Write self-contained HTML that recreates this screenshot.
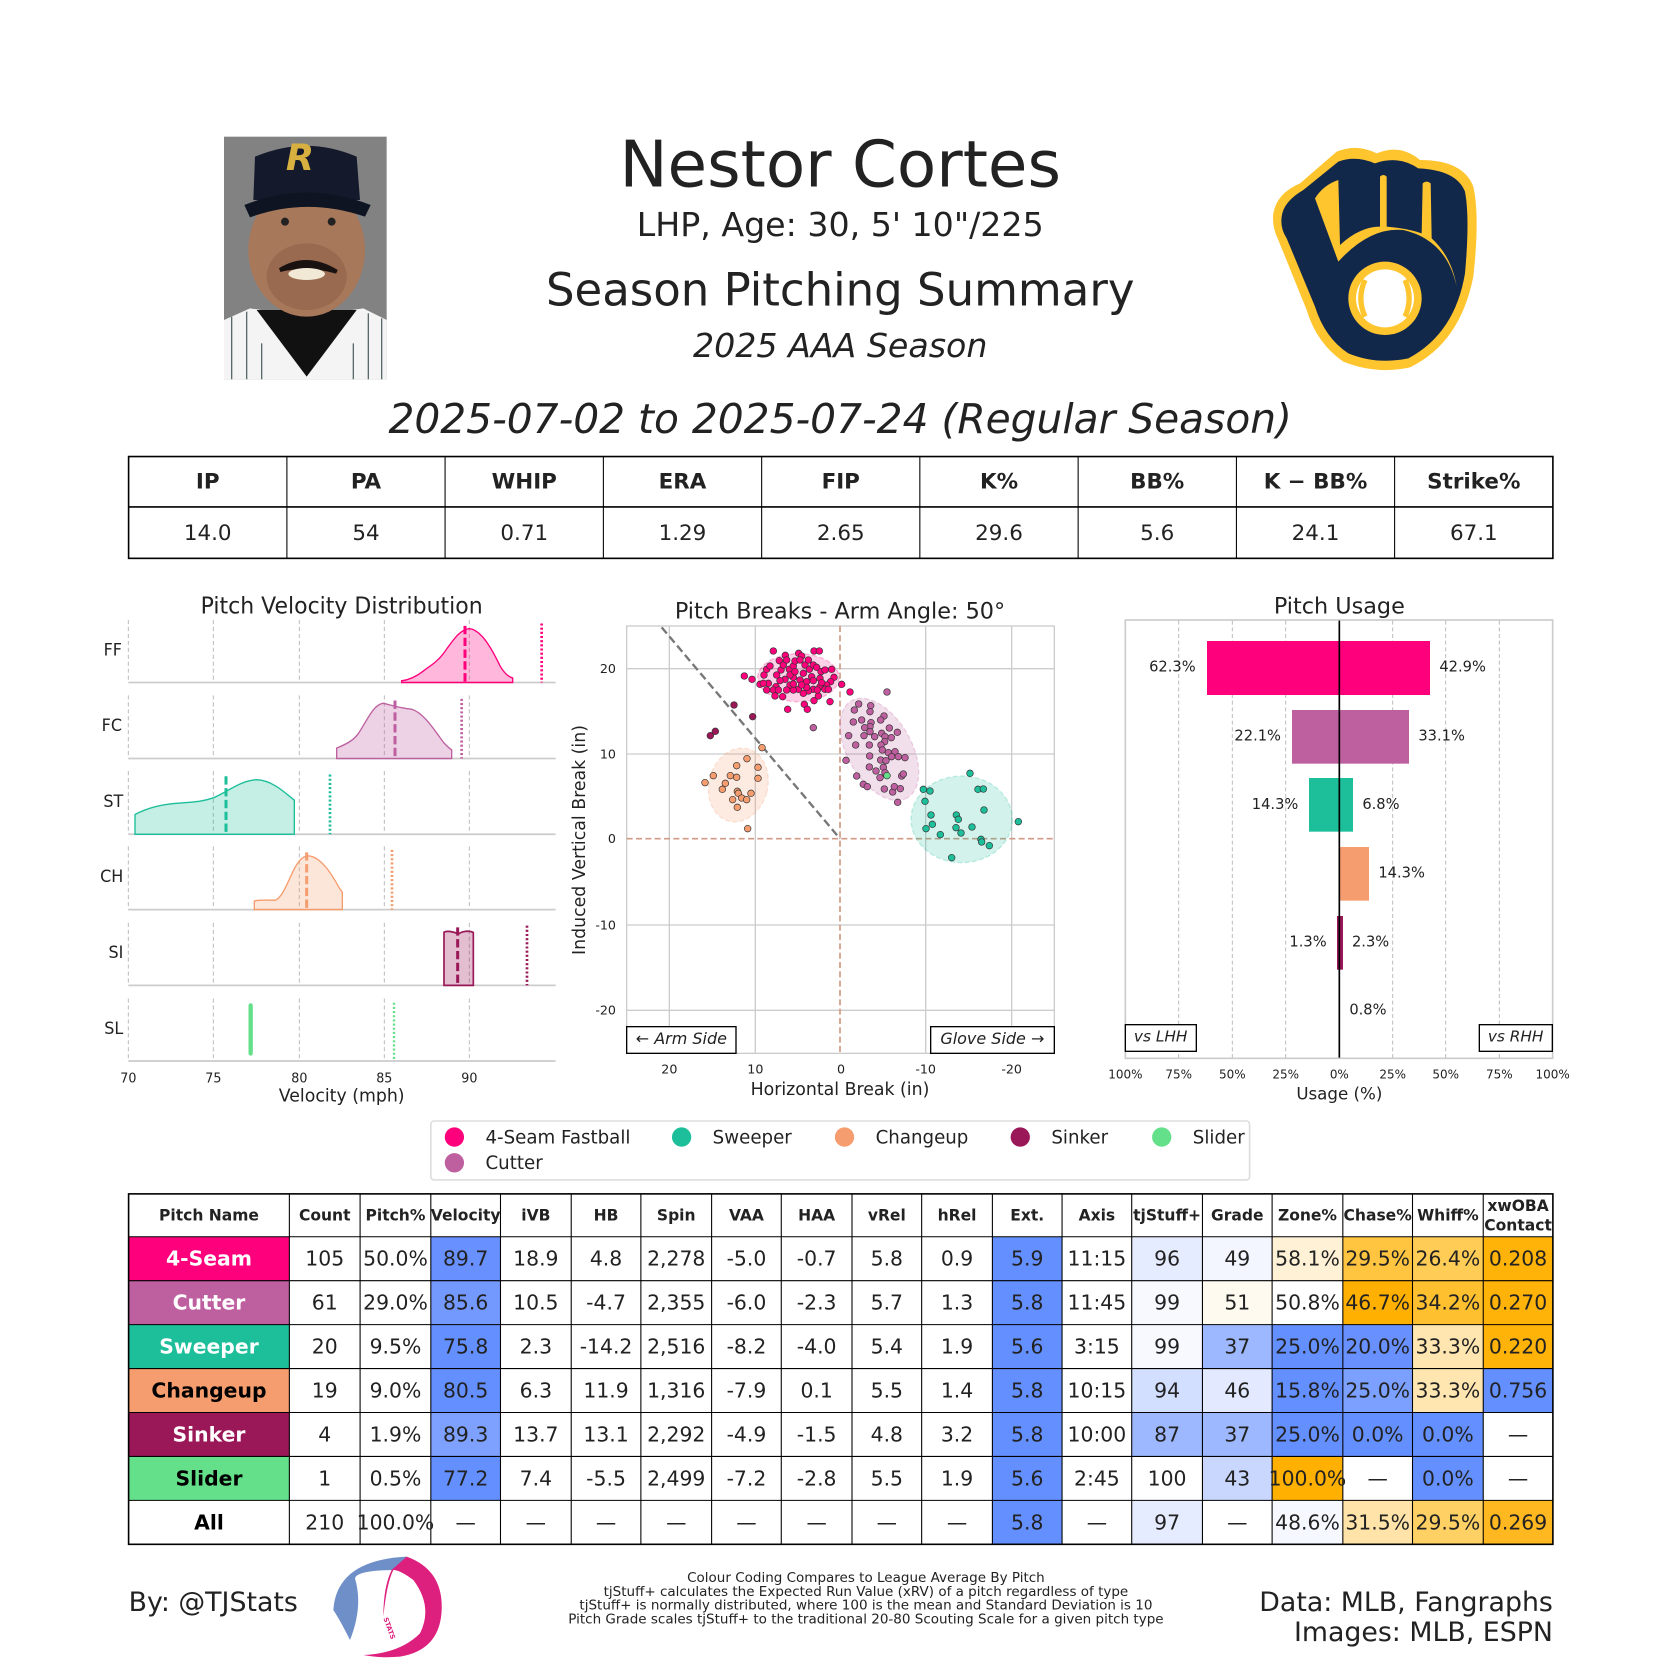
<!DOCTYPE html>
<html><head><meta charset="utf-8"><style>
html,body{margin:0;padding:0;background:#fff;}
svg{display:block;font-family:"DejaVu Sans","Liberation Sans",sans-serif;}
</style></head><body>
<svg width="1680" height="1680" viewBox="0 0 1680 1680" xmlns="http://www.w3.org/2000/svg">
<rect width="1680" height="1680" fill="#fff"/>

<!-- Photo -->
<g transform="translate(200,130) scale(0.33333)">
<rect x="72" y="20" width="488" height="728" fill="#828282"/>
<path d="M72 570 L150 535 L320 560 L490 535 L560 570 L560 748 L72 748 Z" fill="#f4f4f4"/>
<path d="M170 540 L320 740 L470 540 Z" fill="#111"/>
<g stroke="#5a6a6a" stroke-width="4"><line x1="95" y1="560" x2="95" y2="748"/><line x1="140" y1="545" x2="140" y2="748"/><line x1="185" y1="640" x2="185" y2="748"/><line x1="460" y1="640" x2="460" y2="748"/><line x1="505" y1="550" x2="505" y2="748"/><line x1="545" y1="565" x2="545" y2="748"/></g>
<ellipse cx="320" cy="360" rx="175" ry="200" fill="#a8785a"/>
<ellipse cx="320" cy="440" rx="120" ry="100" fill="#9a6a50"/>
<path d="M240 420 Q320 370 410 425 Q320 400 240 420Z" fill="#1a1210" stroke="#1a1210" stroke-width="12"/>
<ellipse cx="320" cy="432" rx="55" ry="18" fill="#f1e8d6"/>
<circle cx="255" cy="275" r="12" fill="#222"/><circle cx="395" cy="275" r="12" fill="#222"/>
<path d="M165 80 Q320 15 470 80 L480 210 L160 210 Z" fill="#141a2c"/>
<path d="M133 225 Q320 150 512 225 L495 260 Q320 200 150 262 Z" fill="#0f1422"/>
<text x="300" y="120" font-size="110" font-weight="bold" fill="#d8b040" text-anchor="middle" font-style="italic">R</text>
</g>

<!-- Titles -->
<g transform="scale(1.0717)">
<text x="784" y="174" font-size="60" text-anchor="middle" fill="#222">Nestor Cortes</text>
<text x="784" y="220" font-size="31" text-anchor="middle" fill="#222">LHP, Age: 30, 5' 10"/225</text>
<text x="784" y="285" font-size="42" text-anchor="middle" fill="#222">Season Pitching Summary</text>
<text x="784" y="333" font-size="31" font-style="italic" text-anchor="middle" fill="#222">2025 AAA Season</text>
<text x="784" y="404" font-size="38" font-style="italic" text-anchor="middle" fill="#222">2025-07-02 to 2025-07-24 (Regular Season)</text>

<rect x="120" y="426" width="1329" height="95" fill="#fff" stroke="#000" stroke-width="1.5"/>
<line x1="120" y1="473" x2="1449" y2="473" stroke="#000" stroke-width="1.5"/>
<g stroke="#000" stroke-width="1">
<line x1="267.7" y1="426" x2="267.7" y2="521"/><line x1="415.3" y1="426" x2="415.3" y2="521"/><line x1="563" y1="426" x2="563" y2="521"/><line x1="710.7" y1="426" x2="710.7" y2="521"/><line x1="858.3" y1="426" x2="858.3" y2="521"/><line x1="1006" y1="426" x2="1006" y2="521"/><line x1="1153.7" y1="426" x2="1153.7" y2="521"/><line x1="1301.3" y1="426" x2="1301.3" y2="521"/>
</g>
<g font-size="20" text-anchor="middle" fill="#222" font-weight="bold">
<text x="193.8" y="456">IP</text><text x="341.5" y="456">PA</text><text x="489.2" y="456">WHIP</text><text x="636.8" y="456">ERA</text><text x="784.5" y="456">FIP</text><text x="932.2" y="456">K%</text><text x="1079.8" y="456">BB%</text><text x="1227.5" y="456">K − BB%</text><text x="1375.2" y="456">Strike%</text>
</g>
<g font-size="20" text-anchor="middle" fill="#222">
<text x="193.8" y="504">14.0</text><text x="341.5" y="504">54</text><text x="489.2" y="504">0.71</text><text x="636.8" y="504">1.29</text><text x="784.5" y="504">2.65</text><text x="932.2" y="504">29.6</text><text x="1079.8" y="504">5.6</text><text x="1227.5" y="504">24.1</text><text x="1375.2" y="504">67.1</text>
</g>
</g>

<!-- Brewers logo -->
<g transform="translate(1270,130) scale(0.33333)">
<path d="M10 250 Q20 190 90 160 L200 65 Q260 40 320 70 Q390 40 450 90 Q580 90 610 170 Q630 260 610 440 Q570 640 420 712 Q320 735 220 695 Q140 640 110 540 L25 330 Q5 290 10 250Z" fill="#ffc52f"/>
<path d="M35 260 Q40 215 100 180 L205 95 Q255 75 315 100 Q385 75 445 115 Q560 120 585 185 Q600 265 585 430 Q555 610 415 685 Q320 705 235 670 Q165 625 135 530 L50 325 Q30 295 35 260Z" fill="#12284b"/>
<path d="M135 205 Q160 165 205 150 L210 345 Q270 290 330 290 L330 140 Q340 130 350 140 L350 290 Q410 295 455 310 L458 160 Q470 150 482 160 L485 325 Q545 380 560 470 Q530 330 400 300 Q300 290 205 395 Z" fill="#ffc52f"/>
<circle cx="345" cy="505" r="110" fill="#ffc52f"/>
<circle cx="345" cy="505" r="87" fill="#fff"/>
<path d="M285 450 Q260 505 285 560" stroke="#ffc52f" stroke-width="16" fill="none"/>
<path d="M405 450 Q430 505 405 560" stroke="#ffc52f" stroke-width="16" fill="none"/>
</g>

<!-- Velocity distribution -->
<g transform="translate(100,579) scale(0.33333,0.3473)">
<text x="725" y="100" font-size="66" text-anchor="middle" fill="#222">Pitch Velocity Distribution</text>
<g stroke="#bbb" stroke-width="3" stroke-dasharray="12,8">
<path d="M85 118V298M340 118V298M598 118V298M853 118V298M1108 118V298"/>
<path d="M85 335V517M340 335V517M598 335V517M853 335V517M1108 335V517"/>
<path d="M85 553V735M340 553V735M598 553V735M853 553V735M1108 553V735"/>
<path d="M85 770V952M340 770V952M598 770V952M853 770V952M1108 770V952"/>
<path d="M85 990V1170M340 990V1170M598 990V1170M853 990V1170M1108 990V1170"/>
<path d="M85 1208V1388M340 1208V1388M598 1208V1388M853 1208V1388M1108 1208V1388"/>
</g>
<g stroke="#ccc" stroke-width="5"><path d="M85 298H1367M85 517H1367M85 735H1367M85 952H1367M85 1170H1367M85 1388H1367"/></g>
<path d="M905,298 L905,293 C930,290 950,280 970,265 C990,250 1010,240 1030,215 C1060,175 1080,145 1108,143 C1140,145 1170,190 1200,250 C1215,275 1230,283 1238,285 L1238,298 Z" fill="#FF007D" fill-opacity="0.28" stroke="#FF007D" stroke-width="4"/>
<path d="M1095 135V298" stroke="#FF007D" stroke-width="9" stroke-dasharray="24,10"/>
<path d="M1325 128V298" stroke="#FF007D" stroke-width="8" stroke-dasharray="6,6"/>
<path d="M710,517 L710,487 C740,475 760,465 775,445 C800,410 820,360 850,358 C870,362 900,372 935,375 C970,385 1000,430 1030,470 C1045,485 1050,490 1055,492 L1055,517 Z" fill="#BE5FA0" fill-opacity="0.28" stroke="#BE5FA0" stroke-width="4"/>
<path d="M885 350V517" stroke="#BE5FA0" stroke-width="9" stroke-dasharray="24,10"/>
<path d="M1085 345V517" stroke="#BE5FA0" stroke-width="8" stroke-dasharray="6,6"/>
<path d="M105,735 L105,678 C140,660 180,648 240,645 C290,642 310,640 340,630 C380,615 420,580 470,578 C520,580 560,620 583,637 L583,735 Z" fill="#1DBE9A" fill-opacity="0.26" stroke="#1DBE9A" stroke-width="4"/>
<path d="M378 568V735" stroke="#1DBE9A" stroke-width="9" stroke-dasharray="24,10"/>
<path d="M690 563V735" stroke="#1DBE9A" stroke-width="8" stroke-dasharray="6,6"/>
<path d="M463,952 L463,927 C480,923 510,925 525,925 C545,920 560,880 580,840 C595,810 610,797 625,797 C660,800 690,840 718,890 L727,902 L727,952 Z" fill="#F59D6E" fill-opacity="0.26" stroke="#F59D6E" stroke-width="4"/>
<path d="M620 787V952" stroke="#F59D6E" stroke-width="9" stroke-dasharray="24,10"/>
<path d="M876 780V952" stroke="#F59D6E" stroke-width="8" stroke-dasharray="6,6"/>
<path d="M1032,1170 L1032,1017 C1040,1012 1060,1015 1075,1022 C1090,1013 1110,1012 1120,1018 L1120,1170 Z" fill="#9A1758" fill-opacity="0.28" stroke="#9A1758" stroke-width="5"/>
<path d="M1073 1003V1170" stroke="#9A1758" stroke-width="9" stroke-dasharray="24,10"/>
<path d="M1281 998V1170" stroke="#9A1758" stroke-width="8" stroke-dasharray="6,6"/>
<path d="M452 1228V1366" stroke="#64E08A" stroke-width="13" stroke-linecap="round"/>
<path d="M882 1220V1388" stroke="#64E08A" stroke-width="7" stroke-dasharray="6,6"/>
<g font-size="48" text-anchor="end" fill="#222">
<text x="66" y="220">FF</text><text x="66" y="438">FC</text><text x="70" y="656">ST</text><text x="70" y="873">CH</text><text x="70" y="1092">SI</text><text x="70" y="1310">SL</text>
</g>
<g font-size="38" text-anchor="middle" fill="#222">
<text x="85" y="1450">70</text><text x="340" y="1450">75</text><text x="598" y="1450">80</text><text x="853" y="1450">85</text><text x="1108" y="1450">90</text>
</g>
<text x="725" y="1505" font-size="52" text-anchor="middle" fill="#222">Velocity (mph)</text>
</g>

<!-- Pitch breaks -->
<g transform="translate(560,590) scale(0.33333)">
<text x="840" y="85" font-size="67" text-anchor="middle" fill="#222">Pitch Breaks - Arm Angle: 50°</text>
<rect x="200" y="108" width="1283" height="1282" fill="#fff" stroke="#ccc" stroke-width="4"/>
<g stroke="#ccc" stroke-width="4">
<path d="M328 108V1390M586 108V1390M1097 108V1390M1355 108V1390M200 236H1483M200 492H1483M200 1005H1483M200 1261H1483"/>
</g>
<g stroke="#d09a84" stroke-width="5" stroke-dasharray="18,10"><path d="M840 108V1390M200 746H1483"/></g>
<path d="M305 112L840 746" stroke="#777" stroke-width="7" stroke-dasharray="24,12"/>
<g stroke-width="4" stroke-dasharray="14,8">
<ellipse cx="715" cy="263" rx="122" ry="72" fill="#FF007D" fill-opacity="0.18" stroke="#FF007D" stroke-opacity="0.25"/>
<ellipse cx="958" cy="478" rx="168" ry="96" transform="rotate(60 958 478)" fill="#BE5FA0" fill-opacity="0.2" stroke="#BE5FA0" stroke-opacity="0.25"/>
<ellipse cx="1205" cy="688" rx="152" ry="130" fill="#1DBE9A" fill-opacity="0.2" stroke="#1DBE9A" stroke-opacity="0.25"/>
<ellipse cx="535" cy="585" rx="88" ry="112" transform="rotate(15 535 585)" fill="#F59D6E" fill-opacity="0.2" stroke="#F59D6E" stroke-opacity="0.25"/>
</g>
<g stroke="#333" stroke-width="2" fill="#FF007D">
<circle cx="640" cy="183" r="10"/><circle cx="762" cy="183" r="10"/><circle cx="778" cy="183" r="10"/><circle cx="676" cy="196" r="10"/><circle cx="716" cy="190" r="10"/><circle cx="725" cy="198" r="10"/><circle cx="553" cy="258" r="10"/><circle cx="576" cy="268" r="10"/><circle cx="600" cy="283" r="10"/><circle cx="612" cy="255" r="10"/><circle cx="620" cy="238" r="10"/><circle cx="630" cy="228" r="10"/><circle cx="658" cy="212" r="10"/><circle cx="663" cy="240" r="10"/><circle cx="670" cy="225" r="10"/><circle cx="688" cy="238" r="10"/><circle cx="700" cy="228" r="10"/><circle cx="705" cy="213" r="10"/><circle cx="720" cy="210" r="10"/><circle cx="735" cy="225" r="10"/><circle cx="748" cy="238" r="10"/><circle cx="760" cy="225" r="10"/><circle cx="770" cy="232" r="10"/><circle cx="783" cy="245" r="10"/><circle cx="795" cy="240" r="10"/><circle cx="815" cy="238" r="10"/><circle cx="822" cy="262" r="10"/><circle cx="812" cy="275" r="10"/><circle cx="800" cy="285" r="10"/><circle cx="780" cy="290" r="10"/><circle cx="760" cy="298" r="10"/><circle cx="745" cy="303" r="10"/><circle cx="730" cy="310" r="10"/><circle cx="715" cy="298" r="10"/><circle cx="700" cy="300" r="10"/><circle cx="690" cy="285" r="10"/><circle cx="675" cy="268" r="10"/><circle cx="660" cy="272" r="10"/><circle cx="648" cy="290" r="10"/><circle cx="640" cy="300" r="10"/><circle cx="625" cy="280" r="10"/><circle cx="610" cy="280" r="10"/><circle cx="645" cy="318" r="10"/><circle cx="668" cy="320" r="10"/><circle cx="683" cy="358" r="10"/><circle cx="733" cy="343" r="10"/><circle cx="742" cy="358" r="10"/><circle cx="762" cy="332" r="10"/><circle cx="775" cy="318" r="10"/><circle cx="810" cy="335" r="10"/><circle cx="845" cy="283" r="10"/><circle cx="870" cy="306" r="10"/><circle cx="700" cy="262" r="10"/><circle cx="720" cy="270" r="10"/><circle cx="740" cy="275" r="10"/><circle cx="755" cy="260" r="10"/><circle cx="690" cy="255" r="10"/><circle cx="650" cy="255" r="10"/><circle cx="705" cy="245" r="10"/><circle cx="730" cy="250" r="10"/><circle cx="780" cy="265" r="10"/><circle cx="795" cy="298" r="10"/><circle cx="785" cy="278" r="10"/><circle cx="805" cy="298" r="10"/><circle cx="760" cy="272" r="10"/><circle cx="740" cy="292" r="10"/><circle cx="725" cy="285" r="10"/><circle cx="772" cy="300" r="10"/><circle cx="655" cy="300" r="10"/><circle cx="700" cy="282" r="10"/><circle cx="680" cy="210" r="10"/><circle cx="745" cy="210" r="10"/><circle cx="620" cy="300" r="10"/><circle cx="680" cy="300" r="10"/>
</g>
<g stroke="#333" stroke-width="2" fill="#9A1758">
<circle cx="451" cy="437" r="10"/><circle cx="466" cy="424" r="10"/><circle cx="522" cy="345" r="10"/><circle cx="578" cy="380" r="10"/>
</g>
<g stroke="#333" stroke-width="2" fill="#BE5FA0">
<circle cx="981" cy="306" r="10"/><circle cx="896" cy="342" r="10"/><circle cx="883" cy="360" r="10"/><circle cx="932" cy="347" r="10"/><circle cx="930" cy="365" r="10"/><circle cx="880" cy="396" r="10"/><circle cx="905" cy="390" r="10"/><circle cx="933" cy="398" r="10"/><circle cx="930" cy="410" r="10"/><circle cx="972" cy="378" r="10"/><circle cx="962" cy="390" r="10"/><circle cx="866" cy="437" r="10"/><circle cx="914" cy="413" r="10"/><circle cx="944" cy="440" r="10"/><circle cx="912" cy="437" r="10"/><circle cx="930" cy="425" r="10"/><circle cx="965" cy="430" r="10"/><circle cx="988" cy="414" r="10"/><circle cx="1012" cy="427" r="10"/><circle cx="975" cy="440" r="10"/><circle cx="994" cy="443" r="10"/><circle cx="974" cy="455" r="10"/><circle cx="887" cy="465" r="10"/><circle cx="928" cy="465" r="10"/><circle cx="963" cy="465" r="10"/><circle cx="967" cy="480" r="10"/><circle cx="985" cy="488" r="10"/><circle cx="1005" cy="485" r="10"/><circle cx="995" cy="500" r="10"/><circle cx="1015" cy="500" r="10"/><circle cx="1035" cy="503" r="10"/><circle cx="858" cy="511" r="10"/><circle cx="929" cy="498" r="10"/><circle cx="962" cy="510" r="10"/><circle cx="978" cy="512" r="10"/><circle cx="948" cy="543" r="10"/><circle cx="970" cy="532" r="10"/><circle cx="928" cy="531" r="10"/><circle cx="890" cy="558" r="10"/><circle cx="960" cy="563" r="10"/><circle cx="1025" cy="558" r="10"/><circle cx="1030" cy="552" r="10"/><circle cx="910" cy="583" r="10"/><circle cx="922" cy="590" r="10"/><circle cx="973" cy="597" r="10"/><circle cx="998" cy="606" r="10"/><circle cx="1003" cy="590" r="10"/><circle cx="1021" cy="596" r="10"/><circle cx="1013" cy="637" r="10"/><circle cx="760" cy="413" r="10"/><circle cx="975" cy="548" r="10"/>
</g>
<circle cx="981" cy="557" r="10" fill="#64E08A" stroke="#333" stroke-width="2"/>
<g stroke="#333" stroke-width="2" fill="#1DBE9A">
<circle cx="1090" cy="598" r="10"/><circle cx="1110" cy="603" r="10"/><circle cx="1095" cy="634" r="10"/><circle cx="1230" cy="550" r="10"/><circle cx="1254" cy="598" r="10"/><circle cx="1270" cy="597" r="10"/><circle cx="1272" cy="660" r="10"/><circle cx="1113" cy="675" r="10"/><circle cx="1117" cy="703" r="10"/><circle cx="1098" cy="716" r="10"/><circle cx="1141" cy="734" r="10"/><circle cx="1189" cy="675" r="10"/><circle cx="1195" cy="688" r="10"/><circle cx="1188" cy="713" r="10"/><circle cx="1203" cy="729" r="10"/><circle cx="1236" cy="711" r="10"/><circle cx="1263" cy="748" r="10"/><circle cx="1265" cy="756" r="10"/><circle cx="1288" cy="767" r="10"/><circle cx="1175" cy="803" r="10"/><circle cx="1375" cy="695" r="10"/>
</g>
<g stroke="#333" stroke-width="2" fill="#F59D6E">
<circle cx="606" cy="473" r="10"/><circle cx="561" cy="506" r="10"/><circle cx="530" cy="527" r="10"/><circle cx="460" cy="557" r="10"/><circle cx="511" cy="557" r="10"/><circle cx="530" cy="562" r="10"/><circle cx="594" cy="532" r="10"/><circle cx="594" cy="565" r="10"/><circle cx="435" cy="578" r="10"/><circle cx="496" cy="580" r="10"/><circle cx="487" cy="598" r="10"/><circle cx="532" cy="604" r="10"/><circle cx="535" cy="610" r="10"/><circle cx="573" cy="610" r="10"/><circle cx="518" cy="629" r="10"/><circle cx="545" cy="624" r="10"/><circle cx="560" cy="629" r="10"/><circle cx="532" cy="652" r="10"/><circle cx="563" cy="716" r="10"/>
</g>
<rect x="200" y="1310" width="328" height="80" fill="#fff" stroke="#000" stroke-width="4"/>
<text x="364" y="1362" font-size="48" font-style="italic" text-anchor="middle" fill="#222">← Arm Side</text>
<rect x="1112" y="1310" width="371" height="80" fill="#fff" stroke="#000" stroke-width="4"/>
<text x="1297" y="1362" font-size="48" font-style="italic" text-anchor="middle" fill="#222">Glove Side →</text>
<g font-size="38" fill="#222">
<g text-anchor="end"><text x="168" y="249">20</text><text x="168" y="505">10</text><text x="168" y="759">0</text><text x="168" y="1018">-10</text><text x="168" y="1274">-20</text></g>
<g text-anchor="middle"><text x="328" y="1450">20</text><text x="586" y="1450">10</text><text x="843" y="1450">0</text><text x="1097" y="1450">-10</text><text x="1355" y="1450">-20</text></g>
</g>
<text x="840" y="1515" font-size="52" text-anchor="middle" fill="#222">Horizontal Break (in)</text>
<text transform="translate(75,750) rotate(-90)" font-size="52" text-anchor="middle" fill="#222">Induced Vertical Break (in)</text>
</g>

<!-- Pitch usage -->
<g transform="translate(1110,590) scale(0.33333)">
<text x="688" y="70" font-size="67" text-anchor="middle" fill="#222">Pitch Usage</text>
<rect x="46" y="90" width="1282" height="1315" fill="#fff" stroke="#ccc" stroke-width="5"/>
<g stroke="#bbb" stroke-width="3" stroke-dasharray="12,8"><path d="M206 92V1403M367 92V1403M527 92V1403M848 92V1403M1007 92V1403M1168 92V1403"/></g>
<rect x="291" y="153" width="669" height="162" fill="#FF007D"/>
<rect x="546" y="360" width="351" height="161" fill="#BE5FA0"/>
<rect x="597" y="564" width="132" height="161" fill="#1DBE9A"/>
<rect x="688" y="771" width="89" height="161" fill="#F59D6E"/>
<rect x="681" y="978" width="18" height="161" fill="#9A1758"/>
<path d="M688 92V1403" stroke="#000" stroke-width="5"/>
<g font-size="44" fill="#222">
<g text-anchor="end"><text x="257" y="245">62.3%</text><text x="513" y="452">22.1%</text><text x="565" y="657">14.3%</text><text x="650" y="1070">1.3%</text></g>
<text x="988" y="245">42.9%</text><text x="925" y="452">33.1%</text><text x="757" y="657">6.8%</text><text x="805" y="863">14.3%</text><text x="726" y="1070">2.3%</text><text x="718" y="1273">0.8%</text>
</g>
<rect x="46" y="1304" width="213" height="80" fill="#fff" stroke="#000" stroke-width="4"/>
<text x="152" y="1354" font-size="46" font-style="italic" text-anchor="middle" fill="#222">vs LHH</text>
<rect x="1108" y="1304" width="219" height="80" fill="#fff" stroke="#000" stroke-width="4"/>
<text x="1217" y="1354" font-size="46" font-style="italic" text-anchor="middle" fill="#222">vs RHH</text>
<g font-size="36" text-anchor="middle" fill="#222">
<text x="46" y="1465">100%</text><text x="206" y="1465">75%</text><text x="367" y="1465">50%</text><text x="527" y="1465">25%</text><text x="688" y="1465">0%</text><text x="848" y="1465">25%</text><text x="1007" y="1465">50%</text><text x="1168" y="1465">75%</text><text x="1328" y="1465">100%</text>
</g>
<text x="688" y="1528" font-size="50" text-anchor="middle" fill="#222">Usage (%)</text>
</g>

<g transform="scale(1.0717)">
<rect x="402" y="1046" width="764" height="55" rx="3" fill="#fff" stroke="#ddd" stroke-width="1.5"/>
<g font-size="17" fill="#222">
<circle cx="424" cy="1061" r="9" fill="#FF007D"/><text x="453" y="1067">4-Seam Fastball</text>
<circle cx="636" cy="1061" r="9" fill="#1DBE9A"/><text x="665" y="1067">Sweeper</text>
<circle cx="788" cy="1061" r="9" fill="#F59D6E"/><text x="817" y="1067">Changeup</text>
<circle cx="952" cy="1061" r="9" fill="#9A1758"/><text x="981" y="1067">Sinker</text>
<circle cx="1084" cy="1061" r="9" fill="#64E08A"/><text x="1113" y="1067">Slider</text>
<circle cx="424" cy="1085" r="9" fill="#BE5FA0"/><text x="453" y="1091">Cutter</text>
</g>

<g>
<rect x="120" y="1154" width="150" height="41" fill="#FF007D"/>
<rect x="120" y="1195" width="150" height="41" fill="#BE5FA0"/>
<rect x="120" y="1236" width="150" height="41" fill="#1DBE9A"/>
<rect x="120" y="1277" width="150" height="41" fill="#F59D6E"/>
<rect x="120" y="1318" width="150" height="41" fill="#9A1758"/>
<rect x="120" y="1359" width="150" height="41" fill="#64E08A"/>
<rect x="402" y="1154" width="65" height="41" fill="#6890ff"/>
<rect x="402" y="1195" width="65" height="41" fill="#7399ff"/>
<rect x="402" y="1236" width="65" height="41" fill="#648fff"/>
<rect x="402" y="1277" width="65" height="41" fill="#648fff"/>
<rect x="402" y="1318" width="65" height="41" fill="#7ea1ff"/>
<rect x="402" y="1359" width="65" height="41" fill="#648fff"/>
<rect x="926" y="1154" width="65" height="287" fill="#648fff"/>
<rect x="1056" y="1154" width="66" height="41" fill="#e6ecff"/>
<rect x="1056" y="1195" width="66" height="41" fill="#f7f9ff"/>
<rect x="1056" y="1236" width="66" height="41" fill="#f7f9ff"/>
<rect x="1056" y="1277" width="66" height="41" fill="#d3dfff"/>
<rect x="1056" y="1318" width="66" height="41" fill="#9db8ff"/>
<rect x="1056" y="1400" width="66" height="41" fill="#e6ecff"/>
<rect x="1122" y="1154" width="65" height="41" fill="#f3f6ff"/>
<rect x="1122" y="1195" width="65" height="41" fill="#fffaf0"/>
<rect x="1122" y="1236" width="65" height="41" fill="#9db8ff"/>
<rect x="1122" y="1277" width="65" height="41" fill="#e3eaff"/>
<rect x="1122" y="1318" width="65" height="41" fill="#9db8ff"/>
<rect x="1122" y="1359" width="65" height="41" fill="#c9d7ff"/>
<rect x="1187" y="1154" width="66" height="41" fill="#fff1d6"/>
<rect x="1187" y="1236" width="66" height="82" fill="#648fff"/>
<rect x="1187" y="1318" width="66" height="41" fill="#648fff"/>
<rect x="1187" y="1359" width="66" height="41" fill="#ffb000"/>
<rect x="1187" y="1400" width="66" height="41" fill="#f6f8ff"/>
<rect x="1253" y="1154" width="65" height="41" fill="#ffc440"/>
<rect x="1253" y="1195" width="65" height="41" fill="#ffb000"/>
<rect x="1253" y="1236" width="65" height="41" fill="#6890ff"/>
<rect x="1253" y="1277" width="65" height="41" fill="#7ba0ff"/>
<rect x="1253" y="1318" width="65" height="41" fill="#648fff"/>
<rect x="1253" y="1400" width="65" height="41" fill="#ffe3a8"/>
<rect x="1318" y="1154" width="66" height="41" fill="#ffcc55"/>
<rect x="1318" y="1195" width="66" height="41" fill="#ffc030"/>
<rect x="1318" y="1236" width="66" height="82" fill="#ffe6b0"/>
<rect x="1318" y="1318" width="66" height="82" fill="#648fff"/>
<rect x="1318" y="1400" width="66" height="41" fill="#ffd064"/>
<rect x="1384" y="1154" width="65" height="123" fill="#ffb308"/>
<rect x="1384" y="1277" width="65" height="41" fill="#648fff"/>
<rect x="1384" y="1400" width="65" height="41" fill="#ffb820"/>
</g>
<g stroke="#000" stroke-width="1" fill="none">
<rect x="120" y="1114" width="1329" height="327" stroke-width="1.5"/>
<path d="M120 1154H1449M120 1195H1449M120 1236H1449M120 1277H1449M120 1318H1449M120 1359H1449M120 1400H1449"/>
<path d="M270 1114V1441M336 1114V1441M402 1114V1441M467 1114V1441M533 1114V1441M598 1114V1441M664 1114V1441M729 1114V1441M795 1114V1441M860 1114V1441M926 1114V1441M991 1114V1441M1056 1114V1441M1122 1114V1441M1187 1114V1441M1253 1114V1441M1318 1114V1441M1384 1114V1441"/>
</g>
<g font-size="14.5" font-weight="bold" text-anchor="middle" fill="#222">
<text x="195" y="1139">Pitch Name</text><text x="303" y="1139">Count</text><text x="369" y="1139">Pitch%</text><text x="434.5" y="1139">Velocity</text><text x="500" y="1139">iVB</text><text x="565.5" y="1139">HB</text><text x="631" y="1139">Spin</text><text x="696.5" y="1139">VAA</text><text x="762" y="1139">HAA</text><text x="827.5" y="1139">vRel</text><text x="893" y="1139">hRel</text><text x="958.5" y="1139">Ext.</text><text x="1023.5" y="1139">Axis</text><text x="1089" y="1139">tjStuff+</text><text x="1154.5" y="1139">Grade</text><text x="1220" y="1139">Zone%</text><text x="1285.5" y="1139">Chase%</text><text x="1351" y="1139">Whiff%</text><text x="1416.5" y="1130">xwOBA</text><text x="1416.5" y="1148">Contact</text>
</g>
<g font-size="19" font-weight="bold" text-anchor="middle">
<text x="195" y="1181" fill="#fff">4-Seam</text>
<text x="195" y="1222" fill="#fff">Cutter</text>
<text x="195" y="1263" fill="#fff">Sweeper</text>
<text x="195" y="1304" fill="#000">Changeup</text>
<text x="195" y="1345" fill="#fff">Sinker</text>
<text x="195" y="1386" fill="#000">Slider</text>
<text x="195" y="1427" fill="#000">All</text>
</g>
<g font-size="19" text-anchor="middle" fill="#222">
<g transform="translate(0,1181)"><text x="303">105</text><text x="369">50.0%</text><text x="434.5">89.7</text><text x="500">18.9</text><text x="565.5">4.8</text><text x="631">2,278</text><text x="696.5">-5.0</text><text x="762">-0.7</text><text x="827.5">5.8</text><text x="893">0.9</text><text x="958.5">5.9</text><text x="1023.5">11:15</text><text x="1089">96</text><text x="1154.5">49</text><text x="1220">58.1%</text><text x="1285.5">29.5%</text><text x="1351">26.4%</text><text x="1416.5">0.208</text></g>
<g transform="translate(0,1222)"><text x="303">61</text><text x="369">29.0%</text><text x="434.5">85.6</text><text x="500">10.5</text><text x="565.5">-4.7</text><text x="631">2,355</text><text x="696.5">-6.0</text><text x="762">-2.3</text><text x="827.5">5.7</text><text x="893">1.3</text><text x="958.5">5.8</text><text x="1023.5">11:45</text><text x="1089">99</text><text x="1154.5">51</text><text x="1220">50.8%</text><text x="1285.5">46.7%</text><text x="1351">34.2%</text><text x="1416.5">0.270</text></g>
<g transform="translate(0,1263)"><text x="303">20</text><text x="369">9.5%</text><text x="434.5">75.8</text><text x="500">2.3</text><text x="565.5">-14.2</text><text x="631">2,516</text><text x="696.5">-8.2</text><text x="762">-4.0</text><text x="827.5">5.4</text><text x="893">1.9</text><text x="958.5">5.6</text><text x="1023.5">3:15</text><text x="1089">99</text><text x="1154.5">37</text><text x="1220">25.0%</text><text x="1285.5">20.0%</text><text x="1351">33.3%</text><text x="1416.5">0.220</text></g>
<g transform="translate(0,1304)"><text x="303">19</text><text x="369">9.0%</text><text x="434.5">80.5</text><text x="500">6.3</text><text x="565.5">11.9</text><text x="631">1,316</text><text x="696.5">-7.9</text><text x="762">0.1</text><text x="827.5">5.5</text><text x="893">1.4</text><text x="958.5">5.8</text><text x="1023.5">10:15</text><text x="1089">94</text><text x="1154.5">46</text><text x="1220">15.8%</text><text x="1285.5">25.0%</text><text x="1351">33.3%</text><text x="1416.5">0.756</text></g>
<g transform="translate(0,1345)"><text x="303">4</text><text x="369">1.9%</text><text x="434.5">89.3</text><text x="500">13.7</text><text x="565.5">13.1</text><text x="631">2,292</text><text x="696.5">-4.9</text><text x="762">-1.5</text><text x="827.5">4.8</text><text x="893">3.2</text><text x="958.5">5.8</text><text x="1023.5">10:00</text><text x="1089">87</text><text x="1154.5">37</text><text x="1220">25.0%</text><text x="1285.5">0.0%</text><text x="1351">0.0%</text><text x="1416.5">—</text></g>
<g transform="translate(0,1386)"><text x="303">1</text><text x="369">0.5%</text><text x="434.5">77.2</text><text x="500">7.4</text><text x="565.5">-5.5</text><text x="631">2,499</text><text x="696.5">-7.2</text><text x="762">-2.8</text><text x="827.5">5.5</text><text x="893">1.9</text><text x="958.5">5.6</text><text x="1023.5">2:45</text><text x="1089">100</text><text x="1154.5">43</text><text x="1220">100.0%</text><text x="1285.5">—</text><text x="1351">0.0%</text><text x="1416.5">—</text></g>
<g transform="translate(0,1427)"><text x="303">210</text><text x="369">100.0%</text><text x="434.5">—</text><text x="500">—</text><text x="565.5">—</text><text x="631">—</text><text x="696.5">—</text><text x="762">—</text><text x="827.5">—</text><text x="893">—</text><text x="958.5">5.8</text><text x="1023.5">—</text><text x="1089">97</text><text x="1154.5">—</text><text x="1220">48.6%</text><text x="1285.5">31.5%</text><text x="1351">29.5%</text><text x="1416.5">0.269</text></g>
</g>

<text x="120" y="1503" font-size="25" fill="#222">By: @TJStats</text>
<g font-size="12.6" text-anchor="middle" fill="#222">
<text x="808" y="1476">Colour Coding Compares to League Average By Pitch</text>
<text x="808" y="1489">tjStuff+ calculates the Expected Run Value (xRV) of a pitch regardless of type</text>
<text x="808" y="1502">tjStuff+ is normally distributed, where 100 is the mean and Standard Deviation is 10</text>
<text x="808" y="1515">Pitch Grade scales tjStuff+ to the traditional 20-80 Scouting Scale for a given pitch type</text>
</g>
<g font-size="25" text-anchor="end" fill="#222">
<text x="1449" y="1503">Data: MLB, Fangraphs</text>
<text x="1449" y="1531">Images: MLB, ESPN</text>
</g>
</g>

<!-- TJStats logo -->
<g transform="translate(300,1540) scale(0.33333)">
<path d="M100 210 Q110 60 320 50 L290 90 Q170 90 165 115 Q190 200 150 300 Q120 240 100 210Z" fill="#6f8fc8"/>
<path d="M320 50 Q430 90 425 210 Q420 330 300 350 Q240 355 190 345 Q300 340 360 280 Q400 200 340 120 Q300 90 280 90 Q260 130 250 230 Q250 140 275 90 Z" fill="#dd1f7e"/>
<text x="250" y="235" font-size="20" font-weight="bold" fill="#dd1f7e" transform="rotate(70 250 235)">STATS</text>
</g>
</svg>
</body></html>
